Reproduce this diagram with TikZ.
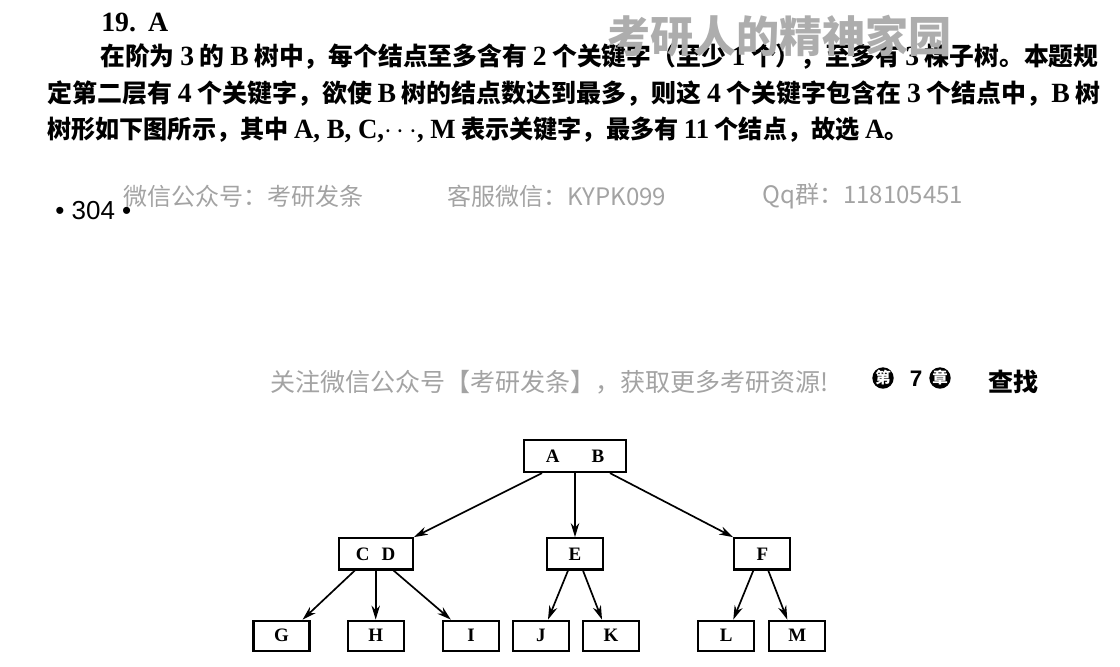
\documentclass[tikz,border=0pt]{standalone}
\usepackage{fontspec}
\usepackage{graphicx}
\setmainfont{Noto Sans CJK SC}
\newfontfamily\latinfont{Liberation Serif}
\newfontfamily\arialfont{Liberation Sans}
\usetikzlibrary{positioning, arrows.meta, calc}
\definecolor{markgray}{HTML}{A3A3A3}
\definecolor{stampgray}{HTML}{ADADAD}
\tikzset{BodyText/.style={%
    anchor=west,%
    inner sep=0pt,%
    font=\fontsize{17.8pt}{20pt}\selectfont\bfseries,%
}}
\tikzset{MarkText/.style={%
    anchor=west,%
    inner sep=0pt,%
    text=markgray,%
    font=\fontsize{17.1pt}{20pt}\selectfont,%
}}
\tikzset{StampText/.style={%
    anchor=west,%
    inner sep=0pt,%
    text=stampgray,%
    font=\fontsize{30.6pt}{34pt}\selectfont\bfseries,%
}}
\tikzset{ChapterDot/.style={%
    shape=circle,%
    fill=black,%
    text=white,%
    minimum size=0.53cm,%
    inner sep=0pt,%
    font=\fontsize{11pt}{11pt}\selectfont\bfseries,%
}}
\tikzset{KeyNode/.style={%
    shape=rectangle,%
    draw=black,%
    line width=1.6pt,%
    minimum width=1.4cm,%
    minimum height=0.75cm,%
    inner sep=0pt,%
    font=\fontsize{13.5pt}{15pt}\selectfont\latinfont\bfseries,%
}}
\tikzset{KeyEdge/.style={%
    -{Stealth[length=10pt,width=6pt]},%
    line width=1.2pt,%
}}
\NewDocumentCommand{\lat}{m}{{\latinfont\bfseries\fontsize{19.8pt}{20pt}\selectfont #1}}
\NewDocumentCommand{\fitLine}{m m}{\resizebox{#1}{\height}{#2}}

\begin{document}
\begin{tikzpicture}[x=0.025cm, y=-0.025cm]
    \useasboundingbox (0,0) rectangle (1120,666);

    % answer text
    \node[BodyText] (num) at (101,22) {\lat{19.\hspace{0.3cm}A}};
    \node[BodyText] (line1) at (100,57) {\fitLine{24.95cm}{在阶为 \lat{3} 的 \lat{B} 树中，每个结点至多含有 \lat{2} 个关键字（至少 \lat{1} 个），至多有 \lat{3} 棵子树。本题规}};
    \node[BodyText] (line2) at (47,94) {\fitLine{26.325cm}{定第二层有 \lat{4} 个关键字，欲使 \lat{B} 树的结点数达到最多，则这 \lat{4} 个关键字包含在 \lat{3} 个结点中，\lat{B} 树}};
    \node[BodyText] (line3) at (47,130) {\fitLine{21.525cm}{树形如下图所示，其中 \lat{A, B, C,$\cdots$, M} 表示关键字，最多有 \lat{11} 个结点，故选 \lat{A}。}};
    \node[StampText] (stamp) at (607,36) {考研人的精神家园};

    % page foot and head
    \node[MarkText] (mark1) at (123,196) {微信公众号：考研发条};
    \node[MarkText] (mark2) at (447,196) {客服微信：KYPK099};
    \node[MarkText] (mark3) at (762,196) {Qq群：118105451};
    \node[anchor=west, inner sep=0pt, font=\fontsize{18.5pt}{20pt}\selectfont\arialfont] (page) at (55,211) {• 304 •};
    \node[MarkText, font=\fontsize{17.8pt}{20pt}\selectfont] (mark4) at (270,382) {关注微信公众号【考研发条】，获取更多考研资源!};
    \node[ChapterDot] (chapA) at (883,378) {第};
    \node[inner sep=0pt, font=\fontsize{16pt}{17pt}\selectfont\arialfont\bfseries] (chapNum) at (916,379) {7};
    \node[ChapterDot] (chapB) at (940,378) {章};
    \node[BodyText] (title) at (988,382) {查找};

    % B tree
    \node[KeyNode, minimum width=2.55cm, minimum height=0.8cm] (ab) at (575,456) {A\hspace{0.8cm}B};
    \node[KeyNode, minimum height=0.78cm, below=1.6cm of ab] (e) {E};
    \node[KeyNode, minimum width=1.85cm, minimum height=0.78cm, left=3.3cm of e] (cd) {C\hspace{0.3cm}D};
    \node[KeyNode, minimum height=0.78cm, right=3.225cm of e] (f) {F};
    \node[KeyNode, below=1.225cm of cd] (h) {H};
    \node[KeyNode, left=0.9cm of h] (g) {G};
    \node[KeyNode, right=0.925cm of h] (i) {I};
    \node[KeyNode, below=1.225cm of e, xshift=-0.85cm] (j) {J};
    \node[KeyNode, below=1.225cm of e, xshift=0.9cm] (k) {K};
    \node[KeyNode, below=1.225cm of f, xshift=-0.9cm] (l) {L};
    \node[KeyNode, below=1.225cm of f, xshift=0.875cm] (m) {M};

    \draw[KeyEdge] ($(ab.south)+(-33,0)$) -- (cd.north east);
    \draw[KeyEdge] (ab) -- (e);
    \draw[KeyEdge] ($(ab.south)+(35,0)$) -- (f.north west);
    \draw[KeyEdge] ($(cd.south)+(-21,0)$) -- ($(g.north east)+(-8,0)$);
    \draw[KeyEdge] (cd) -- (h);
    \draw[KeyEdge] ($(cd.south)+(18,0)$) -- ($(i.north west)+(9,0)$);
    \draw[KeyEdge] ($(e.south)+(-7,0)$) -- ($(j.north)+(7,0)$);
    \draw[KeyEdge] ($(e.south)+(8,0)$) -- ($(k.north)+(-9,0)$);
    \draw[KeyEdge] ($(f.south)+(-9,0)$) -- ($(l.north)+(7,0)$);
    \draw[KeyEdge] ($(f.south)+(6,0)$) -- ($(m.north)+(-10,0)$);
\end{tikzpicture}
\end{document}
